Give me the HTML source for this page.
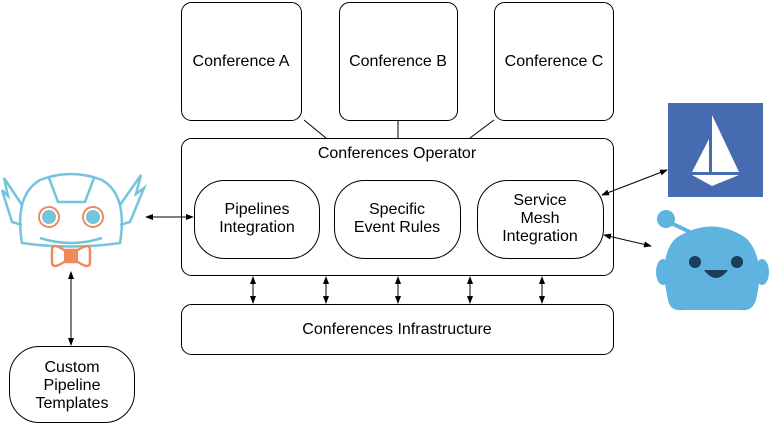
<!DOCTYPE html>
<html><head><style>body{margin:0;background:#fff}svg{display:block}text{font-family:"Liberation Sans",sans-serif;font-size:16px;fill:#000;text-anchor:middle}</style></head><body>
<svg width="779" height="423" viewBox="0 0 779 423" xmlns="http://www.w3.org/2000/svg">
<defs><marker id="a" markerWidth="8" markerHeight="8" refX="7" refY="4" orient="auto-start-reverse" markerUnits="userSpaceOnUse"><path d="M0,1 L8,4 L0,7 Z" fill="#000"/></marker></defs>
<g fill="#fff" stroke="#000" stroke-width="1">
<rect x="181.5" y="2.5" width="120" height="118" rx="10"/>
<rect x="339.5" y="2.5" width="118" height="118" rx="10"/>
<rect x="494.5" y="2.5" width="119" height="118" rx="10"/>
<rect x="181.5" y="138.5" width="432" height="137" rx="10"/>
<rect x="194.5" y="180.5" width="125" height="78" rx="30"/>
<rect x="334.5" y="180.5" width="126" height="78" rx="30"/>
<rect x="477.5" y="180.5" width="126" height="78" rx="30"/>
<rect x="181.5" y="304.5" width="432" height="50" rx="10"/>
<rect x="9.5" y="346.5" width="125" height="76" rx="30"/>
</g>
<!-- robot -->
<g fill="none" stroke="#74c5da" stroke-width="2.5">
<path d="M22,243 Q14,195 40,180 Q71,168 102,180 Q128,195 120,243 Q71,250 22,243 Z"/>
<path d="M49,178 L58,202 L85,202 L94,178"/>
<path d="M22,205 L4,178 L8,196 L2,190 L12,222 L22,225"/>
<path d="M120,205 L141,175 L136,194 L144,188 L130,222 L120,225"/>
<path d="M40,238 Q71,248 102,238"/>
</g>
<circle cx="49" cy="217" r="10" fill="#fff" stroke="#f08a5d" stroke-width="2"/>
<circle cx="49" cy="217" r="7" fill="#74c5da"/>
<circle cx="93" cy="217" r="10" fill="#fff" stroke="#f08a5d" stroke-width="2"/>
<circle cx="93" cy="217" r="7" fill="#74c5da"/>
<path d="M52,250 Q52,242 64,250 L78,250 Q90,242 90,250 L90,262 Q90,270 78,262 L64,262 Q52,270 52,262 Z" fill="#fff" stroke="#f08a5d" stroke-width="2.5"/>
<rect x="64" y="249" width="14" height="14" fill="#f08a5d"/>
<g stroke="#000" stroke-width="1" fill="none">
<line x1="304" y1="120" x2="326" y2="138"/>
<line x1="398" y1="120" x2="398" y2="138"/>
<line x1="494" y1="120" x2="470" y2="138"/>
<g marker-start="url(#a)" marker-end="url(#a)">
<line x1="253" y1="277" x2="253" y2="303"/>
<line x1="326" y1="277" x2="326" y2="303"/>
<line x1="398" y1="277" x2="398" y2="303"/>
<line x1="470" y1="277" x2="470" y2="303"/>
<line x1="542" y1="277" x2="542" y2="303"/>
<line x1="146" y1="217" x2="193" y2="217"/>
<line x1="71" y1="272" x2="71" y2="345"/>
<line x1="602" y1="195" x2="667" y2="170"/>
<line x1="604" y1="235" x2="651" y2="246"/>
</g></g>
<text x="241" y="66">Conference A</text>
<text x="398" y="66">Conference B</text>
<text x="554" y="66">Conference C</text>
<text x="397" y="158">Conferences Operator</text>
<text x="257" y="214">Pipelines</text><text x="257" y="232">Integration</text>
<text x="397" y="214">Specific</text><text x="397" y="232">Event Rules</text>
<text x="540" y="205">Service</text><text x="540" y="223">Mesh</text><text x="540" y="241">Integration</text>
<text x="397" y="334">Conferences Infrastructure</text>
<text x="72" y="372">Custom</text><text x="72" y="390">Pipeline</text><text x="72" y="408">Templates</text>
<!-- istio -->
<rect x="668" y="103" width="95" height="94" fill="#466bb0"/>
<path d="M712,115 L712,172 L739,172 Z M709,139 L709,172 L692,172 Z" fill="#fff"/>
<path d="M692,175 L739,175 L712,186 Z" fill="#fff"/>
<!-- blob -->
<circle cx="666" cy="219" r="9" fill="#5fb3df"/>
<path d="M673,224 L690,232" stroke="#5fb3df" stroke-width="4"/>
<path d="M668,300 Q658,255 676,238 Q712,215 746,238 Q766,258 756,300 Q752,312 740,310 L684,310 Q670,312 668,300 Z" fill="#5fb3df"/>
<ellipse cx="663" cy="272" rx="7" ry="13" fill="#5fb3df"/>
<ellipse cx="762" cy="272" rx="7" ry="13" fill="#5fb3df"/>
<circle cx="695" cy="262" r="6" fill="#1d3d5a"/><circle cx="737" cy="262" r="6" fill="#1d3d5a"/>
<path d="M704,270 Q716,286 728,270 Z" fill="#1d3d5a"/>
</svg>
</body></html>
